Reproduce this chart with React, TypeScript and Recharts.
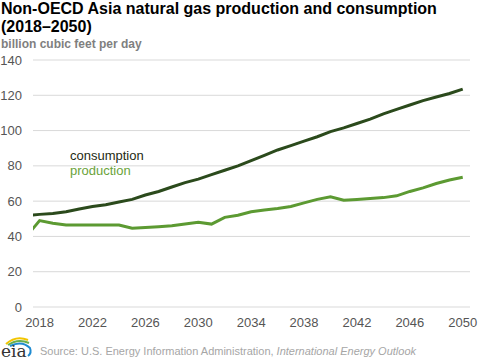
import React from 'react';
import { LineChart, Line, XAxis, YAxis, CartesianGrid } from 'recharts';

const years = [2017, 2018, 2019, 2020, 2021, 2022, 2023, 2024, 2025, 2026, 2027, 2028, 2029, 2030, 2031, 2032, 2033, 2034, 2035, 2036, 2037, 2038, 2039, 2040, 2041, 2042, 2043, 2044, 2045, 2046, 2047, 2048, 2049, 2050];
const consumption = [51.8, 52.5, 53, 54, 55.5, 57, 58, 59.5, 61, 63.5, 65.5, 68, 70.5, 72.5, 75, 77.5, 80, 83, 86, 89, 91.5, 94, 96.5, 99.4, 101.5, 104, 106.5, 109.5, 112, 114.5, 117, 119, 121, 123.5];
const production = [40, 49, 47.5, 46.5, 46.5, 46.5, 46.5, 46.5, 44.6, 45, 45.5, 46, 47, 48, 47, 50.8, 52, 54, 55, 55.8, 57, 59, 61, 62.5, 60.5, 61, 61.5, 62, 63, 65.5, 67.5, 70, 72, 73.5];
const xTicks = [2018, 2022, 2026, 2030, 2034, 2038, 2042, 2046, 2050];
const yTicks = [0, 20, 40, 60, 80, 100, 120, 140];

const data = years.map((year, i) => ({ year, consumption: consumption[i], production: production[i] }));

const font = '"Liberation Sans", Arial, sans-serif';

const EiaLogo = () => (
  <svg width={34} height={26} style={{ position: 'absolute', left: 0, top: 334 }}>
    <path d="M6 10 Q16 1 28 6" stroke="#f2c500" strokeWidth={2} fill="none" />
    <path d="M8 11 Q18 4 29 9" stroke="#6ab04c" strokeWidth={2} fill="none" />
    <path d="M10 12 Q22 6 30 14 Q32 19 28 22" stroke="#1f8bd1" strokeWidth={2} fill="none" />
    <text x={1} y={23} fontFamily='"DejaVu Serif", serif' fontSize={17} fill="#333">eia</text>
  </svg>
);

export default function App() {
  return (
    <div style={{ position: 'absolute', left: 0, top: 0, width: 482, height: 360, background: '#fff', fontFamily: font }}>
      <div style={{ position: 'absolute', left: 1, top: 0, fontSize: 16, fontWeight: 'bold', color: '#000', lineHeight: '18px' }}>
        Non-OECD Asia natural gas production and consumption
        <br />
        (2018–2050)
      </div>
      <div style={{ position: 'absolute', left: 1, top: 37, fontSize: 12, fontWeight: 'bold', color: '#7f7f7f', lineHeight: '14px' }}>
        billion cubic feet per day
      </div>
      <LineChart width={482} height={360} data={data} margin={{ top: 60, right: 12, bottom: 0, left: 0 }} style={{ position: 'absolute', left: 0, top: 0 }}>
        <CartesianGrid vertical={false} stroke="#d9d9d9" />
        <XAxis
          dataKey="year"
          type="number"
          domain={[2017.5, 2050.55]}
          ticks={xTicks}
          allowDataOverflow
          axisLine={false}
          tickLine={false}
          tickMargin={5}
          height={53}
          tick={{ fontSize: 13, fill: '#555', fontFamily: font }}
        />
        <YAxis
          domain={[0, 140]}
          ticks={yTicks}
          axisLine={false}
          tickLine={false}
          tickMargin={5}
          width={33}
          tick={{ fontSize: 13, fill: '#555', fontFamily: font }}
        />
        <Line dataKey="consumption" stroke="#2b4a1c" strokeWidth={3} dot={false} isAnimationActive={false} />
        <Line dataKey="production" stroke="#5c9a32" strokeWidth={3} dot={false} isAnimationActive={false} />
      </LineChart>
      <div style={{ position: 'absolute', left: 70, top: 148, fontSize: 13, color: '#1e2a12', lineHeight: '15px' }}>
        consumption
        <br />
        <span style={{ color: '#6aa33a' }}>production</span>
      </div>
      <EiaLogo />
      <div style={{ position: 'absolute', left: 40, top: 345, fontSize: 11, color: '#a6a6a6' }}>
        Source: U.S. Energy Information Administration, <i>International Energy Outlook</i>
      </div>
    </div>
  );
}
